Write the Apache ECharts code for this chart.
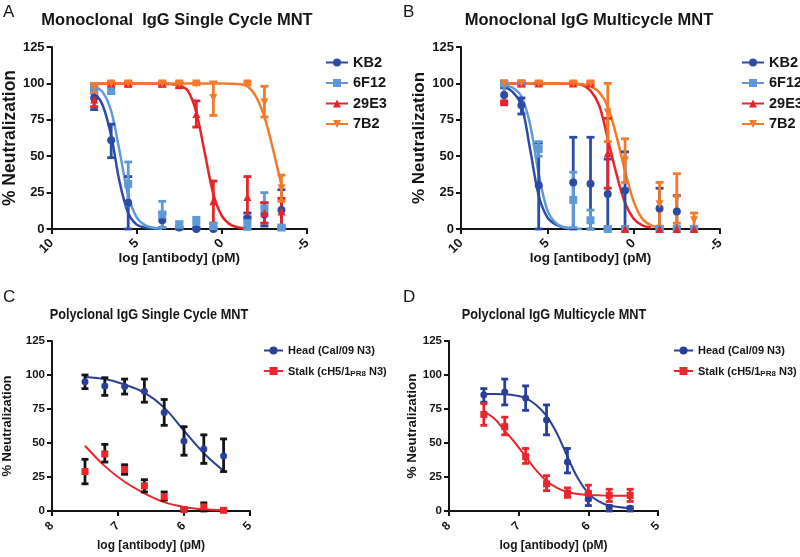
<!DOCTYPE html>
<html>
<head>
<meta charset="UTF-8">
<title>MNT neutralization</title>
<script src="https://cdn.jsdelivr.net/npm/echarts@6/dist/echarts.min.js"></script>
<style>
  html, body { margin: 0; padding: 0; background: #fff; }
  #chart { width: 800px; height: 557px; }
</style>
</head>
<body>
<div id="chart"></div>
<script>
// ---- data: x = log [antibody] (pM) ----
var xMono = [7.5, 6.5, 5.5, 3.5, 2.5, 1.5, 0.5, -1.5, -2.5, -3.5];
var xPoly = [7.5, 7.2, 6.9, 6.6, 6.3, 6.0, 5.7, 5.4];
var yTicks = [0, 25, 50, 75, 100, 125];

var monoNames = ['KB2', '6F12', '29E3', '7B2'];
var polyNames = ['Head (Cal/09 N3)', 'Stalk (cH5/1PR8 N3)'];

// A: monoclonal single cycle (mean, low, high)
var aKB2 = [90, 61, 18, 6, 1, 0, 0, 7, 10, 13];
var aKB2Lo = [82, 49, 0, 1, 0, 0, 0, 0, 2, 0];
var aKB2Hi = [98, 72, 36, 11, 2, 1, 1, 11, 18, 27];
var a6F12 = [97, 95, 31, 10, 3, 5, 2, 4, 14, 1];
var a6F12Lo = [93, 93, 16, 1, 0, 1, 0, 0, 4, 0];
var a6F12Hi = [100, 97, 46, 19, 5, 8, 4, 9, 25, 2];
var a29E3 = [89, 100, 100, 100, 99, 79, 19, 22, 11, 12];
var a29E3Lo = [84, 99, 98, 98, 97, 70, 4, 8, 4, 2];
var a29E3Hi = [95, 101, 101, 101, 101, 88, 33, 36, 18, 21];
var a7B2 = [97, 100, 100, 100, 100, 100, 90, 100, 87, 28];
var a7B2Lo = [94, 99, 99, 99, 99, 99, 78, 99, 77, 19];
var a7B2Hi = [100, 101, 101, 101, 101, 101, 101, 101, 98, 37];

// B: monoclonal multicycle
var bKB2 = [92, 85, 30, 32, 31, 24, 26.5, 14, 12, 0];
var bKB2Lo = [87, 79, 0, 0, 0, 0, 0, 0, 0, 0];
var bKB2Hi = [97, 90, 59, 63, 63, 48, 53, 28, 23, 1];
var b6F12 = [100, 100, 55, 20, 6, 0, 0, 0, 0, 0];
var b6F12Lo = [86, 99, 50, 1, 0, 0, 0, 0, 0, 0];
var b6F12Hi = [101, 101, 60, 39, 13, 1, 1, 1, 1, 1];
var b29E3 = [87, 100, 100, 100, 100, 52, 0, 0, 0, 0];
var b29E3Lo = [86, 99, 99, 99, 99, 28, 0, 0, 0, 0];
var b29E3Hi = [88, 101, 101, 101, 101, 76, 0, 0, 0, 0];
var b7B2 = [100, 100, 100, 100, 100, 80, 47, 17, 21, 6];
var b7B2Lo = [99, 99, 99, 99, 99, 60, 32, 2, 4, 1];
var b7B2Hi = [101, 101, 101, 101, 101, 100, 62, 32, 38, 11];

// C: polyclonal single cycle
var cHead = [95, 92, 91.5, 88, 72.5, 51.5, 45.5, 40.5];
var cHeadLo = [90, 85, 86, 80, 63, 41, 35, 29];
var cHeadHi = [100, 98, 97, 97, 82, 62, 56, 53];
var cStalk = [29, 42, 30.5, 18.5, 10.5, 1, 3, 0.5];
var cStalkLo = [20, 36, 27, 14, 8, 0, 0, 0];
var cStalkHi = [38, 49, 34, 23, 14, 2, 6, 1];

// D: polyclonal multicycle
var dHead = [85.5, 87.5, 83, 67, 36, 9, 2.5, 2];
var dHeadLo = [80, 78, 74, 56, 28, 4, 0, 0];
var dHeadHi = [90, 97, 92, 78, 46, 13, 4, 3];
var dStalk = [71, 62, 40, 20, 13, 13, 11.5, 11.5];
var dStalkLo = [63, 56, 35, 15, 10, 8, 7, 7];
var dStalkHi = [79, 69, 46, 26, 17, 19, 16, 16];

// fitted curves
var aKB2FitX = [7.5, 7.0, 6.5, 6.0, 5.5, 5.0, 4.5, 4.0, 3.5];
var aKB2FitY = [94, 85, 64, 32, 11, 3, 1, 0.3, 0];
var a6F12FitX = [7.5, 7.0, 6.5, 6.0, 5.5, 5.0, 4.5, 4.0, 3.5];
var a6F12FitY = [98, 94, 81, 53, 23, 8, 2.5, 0.8, 0.2];
var a29E3FitX = [7.5, 6.0, 4.5, 3.5, 3.0, 2.5, 2.0, 1.5, 1.0, 0.5, 0.0, -0.5, -1.0, -1.5];
var a29E3FitY = [100, 100, 100, 99.8, 99.5, 98.5, 95, 80, 52, 24, 9, 3, 1, 0.3];
var a7B2FitX = [7.5, 6.0, 4.5, 3.0, 1.5, 0.5, 0.0, -0.5, -1.0, -1.5, -2.0, -2.5, -3.0, -3.5];
var a7B2FitY = [100, 100, 100, 100, 100, 100, 99.9, 99.8, 99.5, 98, 91, 77, 55, 30];

var bKB2FitX = [7.5, 7.0, 6.5, 6.0, 5.5, 5.0, 4.5, 4.0, 3.5];
var bKB2FitY = [98, 94, 85, 55, 23, 8, 3, 1, 0.3];
var b6F12FitX = [7.5, 7.0, 6.5, 6.0, 5.5, 5.0, 4.5, 4.0, 3.5, 3.0];
var b6F12FitY = [99, 97, 91, 72, 38, 13, 4, 1, 0.3, 0.1];
var b29E3FitX = [7.5, 6.0, 4.5, 3.5, 3.0, 2.5, 2.0, 1.5, 1.0, 0.5, 0.0, -0.5, -1.0];
var b29E3FitY = [100, 100, 100, 99.7, 99, 95, 85, 62, 38, 18, 7, 2.5, 1];
var b7B2FitX = [7.5, 6.0, 4.5, 3.5, 3.0, 2.5, 2.0, 1.5, 1.0, 0.5, 0.0, -0.5, -1.0, -1.5];
var b7B2FitY = [100, 100, 100, 100, 99.5, 98, 94, 84, 64, 40, 19, 7, 2.5, 1];

var cHeadFitY = [98.5, 97, 93, 87, 76, 59, 42.5, 29.5];
var cStalkFitY = [48, 33, 21.5, 13, 6.5, 3, 1.2, 0.5];

var dFitX = [7.5, 7.35, 7.2, 7.05, 6.9, 6.75, 6.6, 6.45, 6.3, 6.15, 6.0, 5.85, 5.7, 5.4];
var dHeadFitY = [86, 86, 85.8, 85, 83, 78, 70, 57, 40, 24, 13, 7, 4, 2];
var dStalkFitY = [73, 68, 59, 50, 40, 30, 22, 17, 14, 12.5, 11.8, 11.5, 11.3, 11.2];

// ---- styles ----
var FA = '"Liberation Sans", Arial, sans-serif';
var INK = '#151515';
var monoColors = ['#2c4ba4', '#5e9ad6', '#e4252a', '#f27b2b'];
var monoSymbols = ['circle', 'rect', 'triangle', 'triangle'];
var monoRotate = [0, 0, 0, 180];
var polyColors = ['#2a3f98', '#e8262b'];
var polySymbols = ['circle', 'rect'];

function pairs(xs, ys) {
  return xs.map(function (x, i) { return [x, ys[i]]; });
}
function triples(xs, lo, hi) {
  return xs.map(function (x, i) { return [x, lo[i], hi[i]]; });
}

function errRender(capW, lw, color) {
  return function (params, api) {
    var x = api.value(0), lo = api.value(1), hi = api.value(2);
    if (hi - lo < 0.5) return;
    var p1 = api.coord([x, lo]);
    var p2 = api.coord([x, hi]);
    var st = { stroke: color, lineWidth: lw };
    return {
      type: 'group',
      children: [
        { type: 'line', shape: { x1: p1[0], y1: p1[1], x2: p2[0], y2: p2[1] }, style: st },
        { type: 'line', shape: { x1: p1[0] - capW / 2, y1: p1[1], x2: p1[0] + capW / 2, y2: p1[1] }, style: st },
        { type: 'line', shape: { x1: p2[0] - capW / 2, y1: p2[1], x2: p2[0] + capW / 2, y2: p2[1] }, style: st }
      ]
    };
  };
}

var series = [];
function addSet(gi, name, color, symbol, rot, fit, pts, err, errColor, size, lw) {
  series.push({
    type: 'line', name: name, xAxisIndex: gi, yAxisIndex: gi,
    data: fit, smooth: 0.35, showSymbol: false, symbol: symbol, symbolSize: size,
    symbolRotate: rot, silent: true, z: 2,
    itemStyle: { color: color }, lineStyle: { color: color, width: lw }
  });
  series.push({
    type: 'custom', name: name, xAxisIndex: gi, yAxisIndex: gi,
    data: err, encode: { x: 0, y: [1, 2] }, z: 3, silent: true,
    renderItem: errRender(size, 2.8, errColor)
  });
  series.push({
    type: 'scatter', name: name, xAxisIndex: gi, yAxisIndex: gi,
    data: pts, symbol: symbol, symbolSize: size, symbolRotate: rot, z: 4,
    itemStyle: { color: color, opacity: 1 }
  });
}

var aMeans = [aKB2, a6F12, a29E3, a7B2];
var aLos = [aKB2Lo, a6F12Lo, a29E3Lo, a7B2Lo];
var aHis = [aKB2Hi, a6F12Hi, a29E3Hi, a7B2Hi];
var aFits = [pairs(aKB2FitX, aKB2FitY), pairs(a6F12FitX, a6F12FitY), pairs(a29E3FitX, a29E3FitY), pairs(a7B2FitX, a7B2FitY)];
var bMeans = [bKB2, b6F12, b29E3, b7B2];
var bLos = [bKB2Lo, b6F12Lo, b29E3Lo, b7B2Lo];
var bHis = [bKB2Hi, b6F12Hi, b29E3Hi, b7B2Hi];
var bFits = [pairs(bKB2FitX, bKB2FitY), pairs(b6F12FitX, b6F12FitY), pairs(b29E3FitX, b29E3FitY), pairs(b7B2FitX, b7B2FitY)];

for (var i = 0; i < 4; i++) {
  addSet(0, monoNames[i], monoColors[i], monoSymbols[i], monoRotate[i], aFits[i],
    pairs(xMono, aMeans[i]), triples(xMono, aLos[i], aHis[i]), monoColors[i], 8, 2.5);
}
for (var j = 0; j < 4; j++) {
  addSet(1, monoNames[j], monoColors[j], monoSymbols[j], monoRotate[j], bFits[j],
    pairs(xMono, bMeans[j]), triples(xMono, bLos[j], bHis[j]), monoColors[j], 8, 2.5);
}
addSet(2, polyNames[0], polyColors[0], polySymbols[0], 0, pairs(xPoly, cHeadFitY),
  pairs(xPoly, cHead), triples(xPoly, cHeadLo, cHeadHi), INK, 7, 2);
addSet(2, polyNames[1], polyColors[1], polySymbols[1], 0, pairs(xPoly, cStalkFitY),
  pairs(xPoly, cStalk), triples(xPoly, cStalkLo, cStalkHi), INK, 7, 2);
addSet(3, polyNames[0], polyColors[0], polySymbols[0], 0, pairs(dFitX, dHeadFitY),
  pairs(xPoly, dHead), triples(xPoly, dHeadLo, dHeadHi), polyColors[0], 7, 2);
addSet(3, polyNames[1], polyColors[1], polySymbols[1], 0, pairs(dFitX, dStalkFitY),
  pairs(xPoly, dStalk), triples(xPoly, dStalkLo, dStalkHi), polyColors[1], 7, 2);

// ---- axes ----
function xAx(gi, min, max, interval, labelSize, labelMargin, nameSize, nameGap) {
  return {
    gridIndex: gi, type: 'value', min: min, max: max, interval: interval, inverse: true,
    axisLine: { onZero: false, lineStyle: { color: INK, width: 2 } },
    axisTick: { length: 5, lineStyle: { color: INK, width: 2 } },
    axisLabel: { rotate: 45, margin: labelMargin, fontFamily: FA, fontWeight: 'bold', fontSize: labelSize, color: INK },
    splitLine: { show: false },
    name: 'log [antibody] (pM)', nameLocation: 'middle', nameGap: nameGap, nameMoveOverlap: false,
    nameTextStyle: { fontFamily: FA, fontWeight: 'bold', fontSize: nameSize, color: INK }
  };
}
function yAx(gi, labelSize, nameSize, nameGap) {
  return {
    gridIndex: gi, type: 'value', min: yTicks[0], max: yTicks[yTicks.length - 1], interval: 25,
    axisLine: { show: true, onZero: false, lineStyle: { color: INK, width: 2 } },
    axisTick: { show: true, length: 5, lineStyle: { color: INK, width: 2 } },
    axisLabel: { margin: 7, fontFamily: FA, fontWeight: 'bold', fontSize: labelSize, color: INK },
    splitLine: { show: false },
    name: '% Neutralization', nameLocation: 'middle', nameGap: nameGap,
    nameTextStyle: { fontFamily: FA, fontWeight: 'bold', fontSize: nameSize, color: INK }
  };
}

function legendAt(left, top, names, size, gap, iconW, textGap) {
  return {
    orient: 'vertical', left: left, top: top, data: names, selectedMode: false,
    padding: 0, itemWidth: iconW, itemHeight: 10, itemGap: gap, itemTextGap: textGap,
    textStyle: {
      fontFamily: FA, fontSize: size, fontWeight: 'bold', color: INK,
      rich: {
        n: { fontFamily: FA, fontSize: size, fontWeight: 'bold', color: INK, lineHeight: size + 2, verticalAlign: 'bottom' },
        sub: { fontFamily: FA, fontSize: Math.round(size * 0.7), fontWeight: 'bold', color: INK, lineHeight: 6, verticalAlign: 'bottom' }
      }
    },
    formatter: function (name) {
      return name.indexOf('PR8') > -1 ? '{n|Stalk (cH5/1}{sub|PR8}{n| N3)}' : name;
    }
  };
}

function label(text, x, y, font, align, sx) {
  return {
    type: 'text', x: x, y: y, scaleX: sx || 1,
    style: { text: text, font: font, fill: INK, textAlign: align, textVerticalAlign: 'middle' }
  };
}

var option = {
  animation: false,
  backgroundColor: '#fff',
  graphic: [
    label('A', 3, 12, 'normal 17px ' + FA, 'left'),
    label('B', 403, 12, 'normal 17px ' + FA, 'left'),
    label('C', 3, 297, 'normal 17px ' + FA, 'left'),
    label('D', 403, 297, 'normal 17px ' + FA, 'left'),
    label('Monoclonal  IgG Single Cycle MNT', 177, 20, 'bold 16.5px ' + FA, 'center'),
    label('Monoclonal IgG Multicycle MNT', 589, 20, 'bold 16.5px ' + FA, 'center'),
    label('Polyclonal IgG Single Cycle MNT', 149, 315, 'bold 15.5px ' + FA, 'center', 0.82),
    label('Polyclonal IgG Multicycle MNT', 554, 315, 'bold 15.5px ' + FA, 'center', 0.82)
  ],
  grid: [
    { left: 46, top: 47, width: 261, height: 182 },
    { left: 461, top: 47, width: 259, height: 182 },
    { left: 49, top: 341, width: 201, height: 170 },
    { left: 449, top: 341, width: 209, height: 170 }
  ],
  xAxis: [
    xAx(0, -5, 10, 5, 13, 12, 13.5, 22),
    xAx(1, -5, 10, 5, 13, 12, 13.5, 22),
    xAx(2, 5, 8, 1, 12, 13, 12, 29),
    xAx(3, 5, 8, 1, 12, 13, 12, 29)
  ],
  yAxis: [
    yAx(0, 13, 17.5, 30),
    yAx(1, 13, 17, 33),
    yAx(2, 11.5, 13, 38),
    yAx(3, 11.5, 13.5, 25)
  ],
  legend: [
    legendAt(325, 55, monoNames, 14.5, 5.5, 22, 8),
    legendAt(741, 55, monoNames, 14.5, 5.5, 22, 8),
    legendAt(263, 345, polyNames, 11, 10.5, 19, 4),
    legendAt(673, 345, polyNames, 11, 10.5, 19, 4)
  ],
  series: series
};

var chart = echarts.init(document.getElementById('chart'));
chart.setOption(option);
</script>
</body>
</html>
